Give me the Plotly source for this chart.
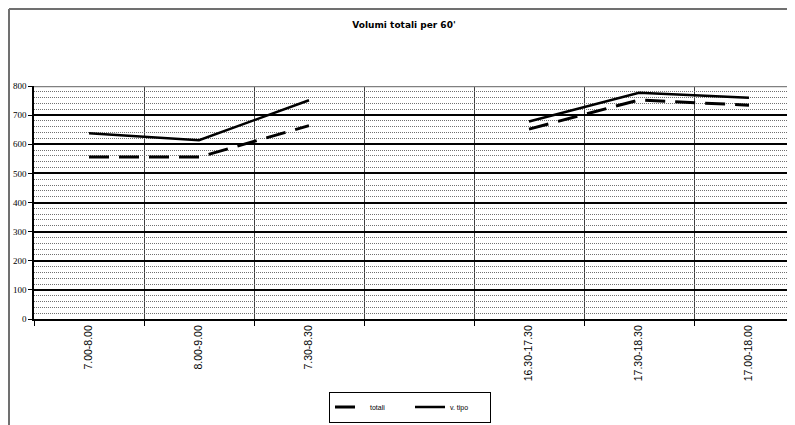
import plotly.graph_objects as go

categories = ["7.00-8.00", "8.00-9.00", "7.30-8.30", "", "16.30-17.30", "17.30-18.30", "17.00-18.00"]
totali = [556, 556, 664, None, 652, 752, 734]
v_tipo = [638, 614, 751, None, 678, 777, 760]

OFF = 8  # default page body margin
W, H = 795 - OFF, 425 - OFF
L, R_EDGE, T, B = 34 - OFF, 795 - OFF, 86 - OFF, 319 - OFF
PW, PH = R_EDGE - L, B - T
x_pos = list(range(len(categories)))
slot = 110.0
x_end = -0.5 + PW / slot


def px(x):
    return (x - OFF - L) / PW


def py(y):
    return (B - (y - OFF)) / PH


fig = go.Figure()
fig.add_trace(go.Scatter(x=x_pos, y=totali, name="totali", mode="lines",
                         line=dict(color="black", width=3, dash="20px,10px"),
                         connectgaps=False))
fig.add_trace(go.Scatter(x=x_pos, y=v_tipo, name="v. tipo", mode="lines",
                         line=dict(color="black", width=2.5),
                         connectgaps=False))

fig.update_layout(
    width=W, height=H,
    margin=dict(l=L, r=W - R_EDGE, t=T, b=H - B, autoexpand=False),
    paper_bgcolor="white", plot_bgcolor="white",
    title=dict(text="<b>Volumi totali per 60'</b>", x=(404 - OFF) / W, xanchor="center",
               y=1 - (25 - OFF) / H, yanchor="middle",
               font=dict(family="DejaVu Sans", size=9, color="black")),
    showlegend=True,
    legend=dict(orientation="h", x=px(410), xanchor="center",
                y=py(407), yanchor="middle",
                bordercolor="black", borderwidth=1,
                font=dict(family="Liberation Sans", size=7, color="black"),
                entrywidth=35, tracegroupgap=0),
    xaxis=dict(range=[-0.5, x_end], tickvals=x_pos, ticktext=categories,
               tickangle=-90, showgrid=False, zeroline=False, automargin=False,
               showline=True, linecolor="black", linewidth=2,
               ticks="", tickfont=dict(family="Liberation Sans", size=10.5, color="black"),
               minor=dict(tick0=-0.5, dtick=1, showgrid=True, gridcolor="#404040",
                          gridwidth=1, ticks="outside", ticklen=5, tickcolor="black")),
    yaxis=dict(range=[0, 800], dtick=100, tick0=0, showgrid=True, gridcolor="black",
               gridwidth=1.5, zeroline=False, showline=True, linecolor="black",
               linewidth=1.5, ticks="outside", ticklen=4, tickcolor="black",
               automargin=False,
               tickfont=dict(family="Liberation Serif", size=9, color="black"),
               minor=dict(dtick=20, showgrid=True, gridcolor="#707070",
                          griddash="1px,1px", gridwidth=1)),
    shapes=[
        dict(type="line", xref="paper", yref="y", x0=0, x1=1, y0=800, y1=800,
             line=dict(color="#808080", width=2.5), layer="above"),
        dict(type="line", xref="paper", yref="paper",
             x0=px(9), x1=px(9), y0=py(425), y1=py(9),
             line=dict(color="#707070", width=2), layer="below"),
        dict(type="line", xref="paper", yref="paper",
             x0=px(9), x1=px(800), y0=py(9), y1=py(9),
             line=dict(color="#707070", width=2), layer="below"),
    ],
)

fig.write_html("out.html")
